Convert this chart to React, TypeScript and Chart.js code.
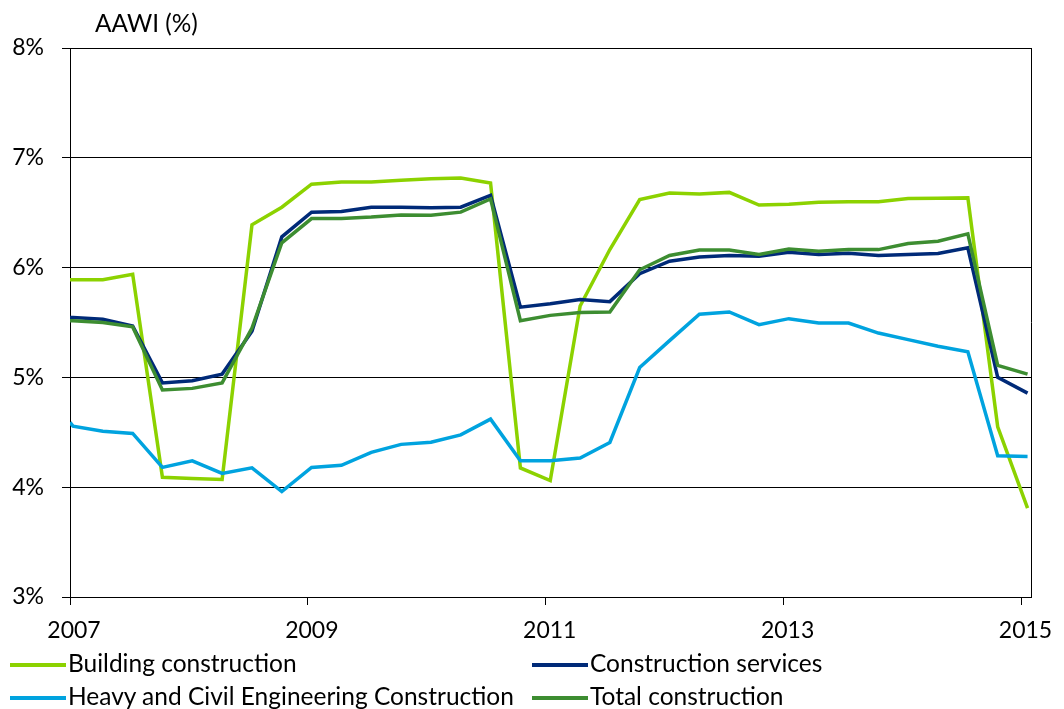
import React, { useEffect, useRef } from "react";
import { Chart, registerables } from "chart.js";

Chart.register(...registerables);

// Decimal-year positions of the quarterly observations (first one at the axis start)
const periods: number[] = [
  2007.0, 2007.025, 2007.276, 2007.527, 2007.777, 2008.028, 2008.279, 2008.53, 2008.781,
  2009.031, 2009.282, 2009.533, 2009.784, 2010.035, 2010.285, 2010.536, 2010.787,
  2011.038, 2011.289, 2011.539, 2011.79, 2012.041, 2012.292, 2012.543, 2012.793,
  2013.044, 2013.295, 2013.546, 2013.797, 2014.047, 2014.298, 2014.549, 2014.8, 2015.051,
];

const buildingConstruction: number[] = [
  5.89, 5.89, 5.89, 5.94, 4.09, 4.08, 4.07, 6.39, 6.55,
  6.76, 6.78, 6.78, 6.795, 6.81, 6.815, 6.77, 4.175,
  4.06, 5.65, 6.165, 6.62, 6.68, 6.67, 6.685, 6.57,
  6.578, 6.596, 6.6, 6.6, 6.63, 6.632, 6.635, 4.55, 3.81,
];

const constructionServices: number[] = [
  5.546, 5.545, 5.53, 5.467, 4.95, 4.97, 5.03, 5.42, 6.28,
  6.505, 6.51, 6.55, 6.55, 6.545, 6.55, 6.657, 5.64,
  5.67, 5.71, 5.69, 5.945, 6.058, 6.097, 6.11, 6.103,
  6.14, 6.12, 6.13, 6.11, 6.12, 6.128, 6.18, 5.0, 4.857,
];

const heavyCivil: number[] = [
  4.59, 4.556, 4.51, 4.49, 4.18, 4.24, 4.125, 4.176, 3.96,
  4.18, 4.2, 4.317, 4.39, 4.41, 4.477, 4.62, 4.24,
  4.24, 4.265, 4.407, 5.09, 5.335, 5.575, 5.596, 5.48,
  5.535, 5.495, 5.495, 5.404, 5.344, 5.283, 5.234, 4.286, 4.28,
];

const totalConstruction: number[] = [
  5.515, 5.515, 5.5, 5.46, 4.885, 4.9, 4.95, 5.45, 6.226,
  6.447, 6.447, 6.46, 6.48, 6.477, 6.505, 6.626, 5.517,
  5.565, 5.59, 5.596, 5.98, 6.11, 6.16, 6.16, 6.12,
  6.17, 6.15, 6.164, 6.164, 6.22, 6.24, 6.307, 5.11, 5.03,
];

const xTickYears: number[] = [2007, 2009, 2011, 2013, 2015];
const yTickValues: number[] = [3, 4, 5, 6, 7, 8];

const seriesNames: string[] = [
  "Building construction",
  "Construction services",
  "Heavy and Civil Engineering Construction",
  "Total construction",
];
const seriesColors: string[] = ["#8CD200", "#002A78", "#00A3DF", "#3D8D31"];

const FONT = "Lato, 'Open Sans', sans-serif";

const rightBorder = {
  id: "rightBorder",
  afterDatasetsDraw(chart: any) {
    const { ctx, chartArea } = chart;
    ctx.save();
    ctx.strokeStyle = "#000";
    ctx.lineWidth = 1;
    ctx.beginPath();
    ctx.moveTo(Math.round(chartArea.right) + 0.5, chartArea.top);
    ctx.lineTo(Math.round(chartArea.right) + 0.5, chartArea.bottom);
    ctx.stroke();
    ctx.restore();
  },
};

export default function App() {
  const canvasRef = useRef<HTMLCanvasElement | null>(null);

  useEffect(() => {
    if (!canvasRef.current) return;
    const all = [buildingConstruction, constructionServices, heavyCivil, totalConstruction];
    const orders = [4, 3, 2, 1];
    const chart = new Chart(canvasRef.current, {
      type: "line",
      data: {
        datasets: all.map((vals, i) => ({
          label: seriesNames[i],
          data: periods.map((p, j) => ({ x: p, y: vals[j] })),
          borderColor: seriesColors[i],
          backgroundColor: seriesColors[i],
          borderWidth: 3.5,
          pointRadius: 0,
          tension: 0,
          fill: false,
          order: orders[i],
        })),
      },
      options: {
        animation: false,
        responsive: false,
        maintainAspectRatio: false,
        layout: { padding: { left: 0, top: 48, right: 33, bottom: 62 } },
        plugins: { legend: { display: false }, tooltip: { enabled: false }, title: { display: false } },
        scales: {
          x: {
            type: "linear",
            min: 2007,
            max: 2015.08,
            afterBuildTicks: (scale: any) => {
              scale.ticks = xTickYears.map((v) => ({ value: v }));
            },
            afterFit: (scale: any) => {
              scale.height = 50;
            },
            ticks: {
              autoSkip: false,
              maxRotation: 0,
              padding: 12,
              labelOffset: 4,
              color: "#000",
              font: { family: FONT, size: 23 },
              callback: (v: any) => String(v),
            },
            grid: { drawOnChartArea: false, drawTicks: true, tickLength: 8, color: "#000" },
            border: { display: true, color: "#000", width: 1 },
          },
          y: {
            min: 3,
            max: 8,
            afterBuildTicks: (scale: any) => {
              scale.ticks = yTickValues.map((v) => ({ value: v }));
            },
            afterFit: (scale: any) => {
              scale.width = 70;
            },
            ticks: {
              padding: 18,
              color: "#000",
              font: { family: FONT, size: 23 },
              callback: (v: any) => v + "%",
            },
            grid: { color: "#000", lineWidth: 1, tickLength: 8, drawTicks: true },
            border: { display: true, color: "#000", width: 1 },
          },
        },
      },
      plugins: [rightBorder],
    });
    return () => chart.destroy();
  }, []);

  const legendItem = (i: number, left: number, top: number) => (
    <div key={i} style={{ position: "absolute", left, top, height: 30, width: 520 }}>
      <div
        style={{
          position: "absolute",
          left: 0,
          top: 12,
          width: 56,
          height: 4,
          background: seriesColors[i],
        }}
      />
      <div
        style={{
          position: "absolute",
          left: 58,
          top: 0,
          fontFamily: FONT,
          fontSize: 24.5,
          lineHeight: "24.5px",
          color: "#000",
          whiteSpace: "nowrap",
        }}
      >
        {seriesNames[i]}
      </div>
    </div>
  );

  return (
    <div style={{ position: "absolute", left: 0, top: 0, width: 1064, height: 709, background: "#fff", overflow: "hidden" }}>
      <canvas ref={canvasRef} width={1064} height={709} style={{ position: "absolute", left: 0, top: 0 }} />
      <div
        style={{
          position: "absolute",
          left: 95,
          top: 11,
          fontFamily: FONT,
          fontSize: 24.4,
          lineHeight: "24.4px",
          color: "#000",
          whiteSpace: "nowrap",
        }}
      >
        AAWI (%)
      </div>
      {legendItem(0, 10, 651)}
      {legendItem(1, 532, 651)}
      {legendItem(2, 10, 684)}
      {legendItem(3, 532, 684)}
    </div>
  );
}
